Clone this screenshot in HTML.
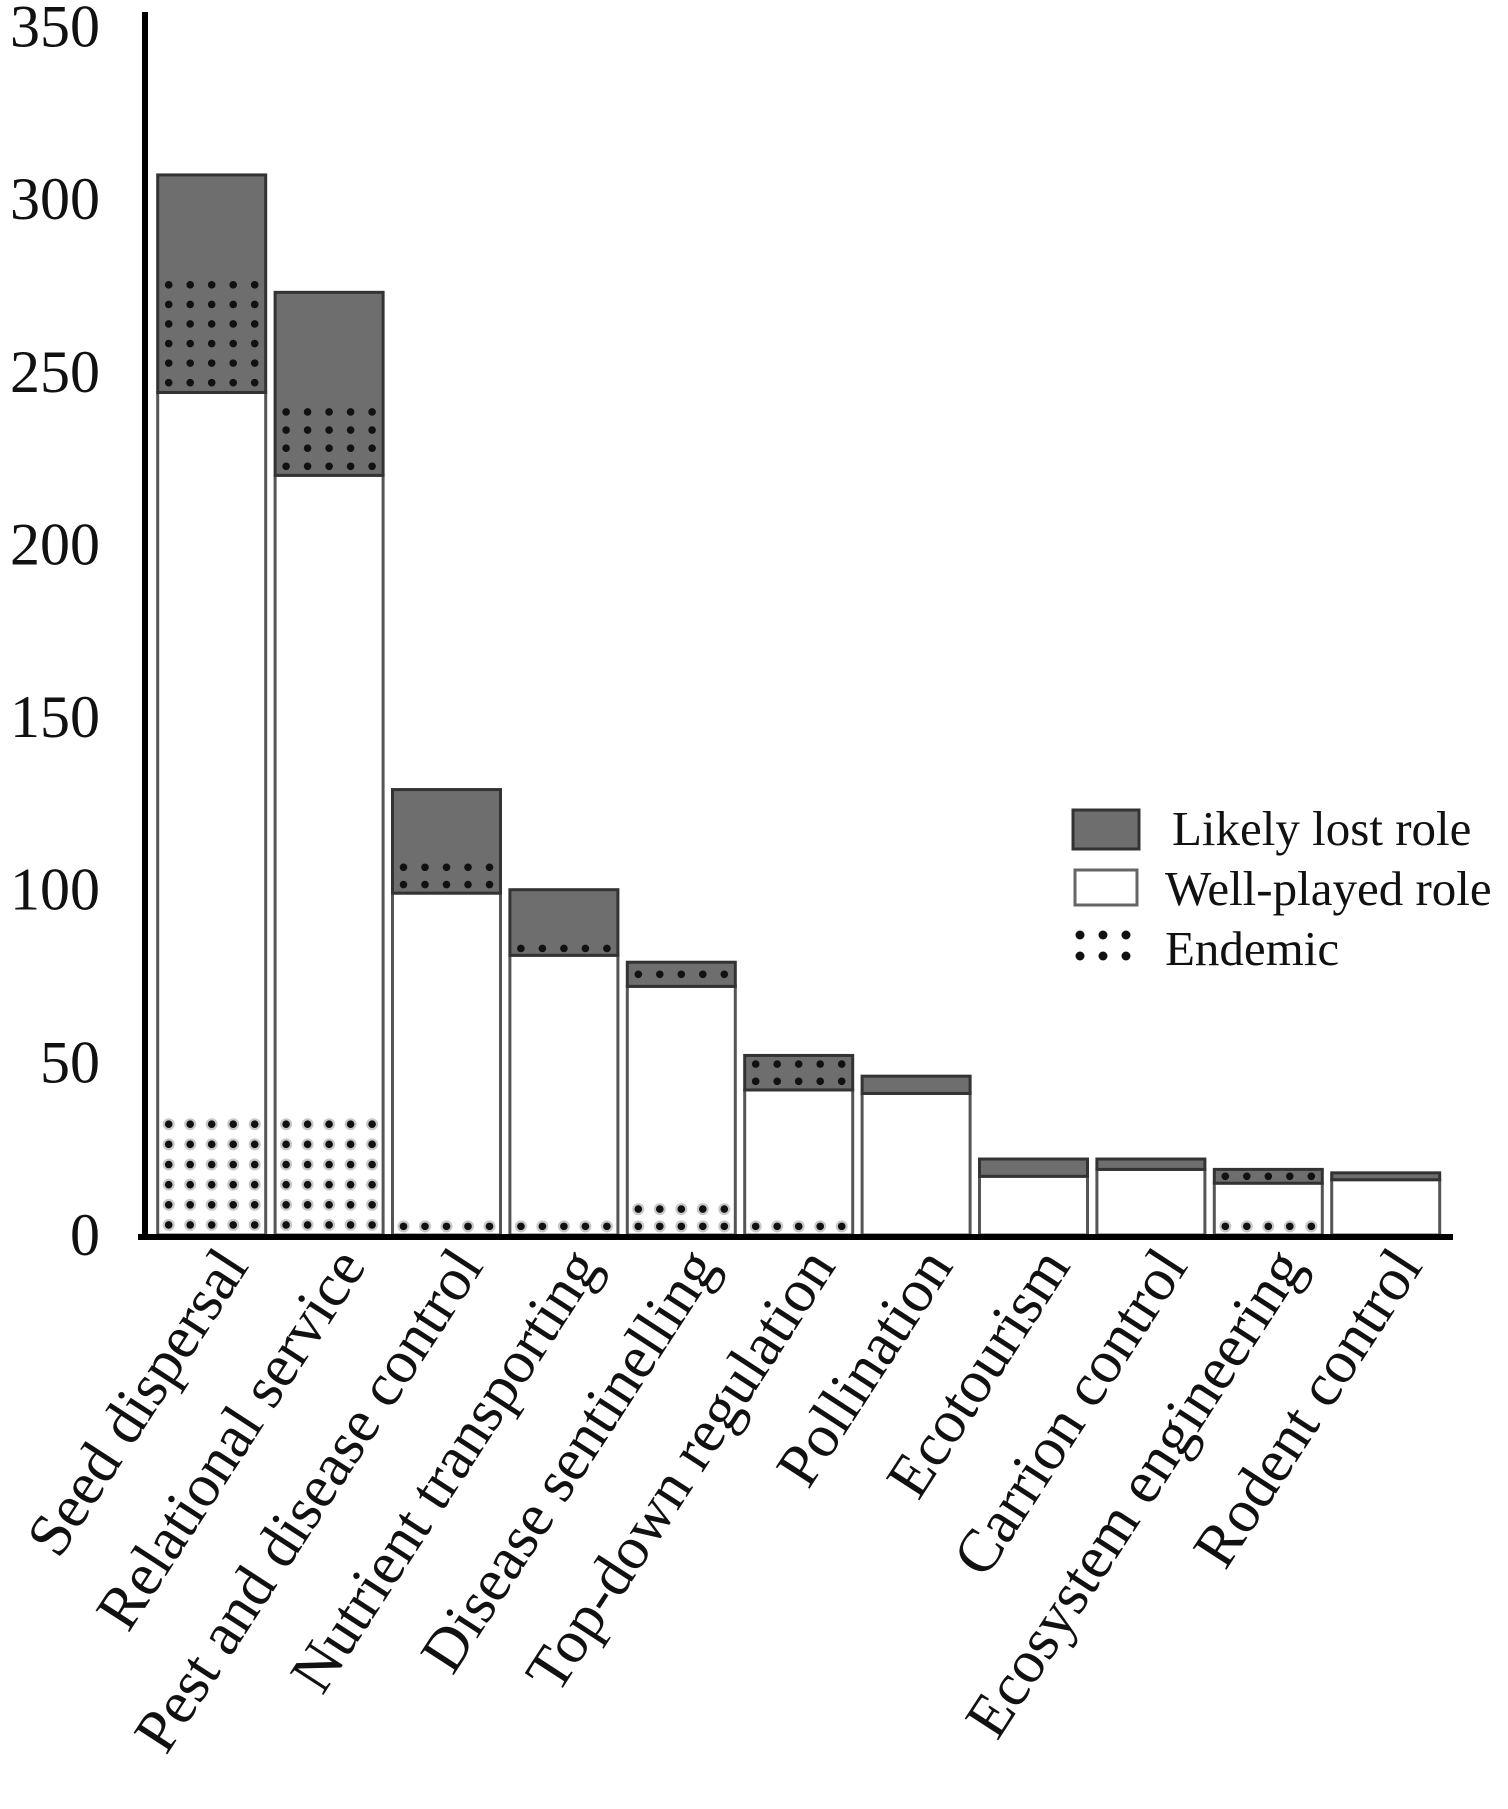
<!DOCTYPE html>
<html><head><meta charset="utf-8"><style>
html,body{margin:0;padding:0;background:#fff;}
svg text{font-family:"Liberation Serif",serif;fill:#111;}
</style></head><body>
<svg id="chart" width="1508" height="1804" viewBox="0 0 1508 1804" xmlns="http://www.w3.org/2000/svg">
<g id="bars"></g>
<g id="axes"></g>
<g id="legend">
<rect x="1073" y="810" width="66" height="39" fill="#6e6e6e" stroke="#333" stroke-width="3"/>
<text x="1172" y="845" font-size="49">Likely lost role</text>
<rect x="1075" y="870" width="62" height="35" fill="#fff" stroke="#666" stroke-width="3"/>
<text x="1165" y="905" font-size="49">Well-played role</text>
<g fill="#111">
<circle cx="1080" cy="935" r="4.5"/><circle cx="1103" cy="935" r="4.5"/><circle cx="1126" cy="935" r="4.5"/>
<circle cx="1080" cy="956" r="4.5"/><circle cx="1103" cy="956" r="4.5"/><circle cx="1126" cy="956" r="4.5"/>
</g>
<text x="1165" y="965" font-size="49">Endemic</text>
</g>
</svg>
<script>
const categories = ["Seed dispersal","Relational service","Pest and disease control","Nutrient transporting","Disease sentinelling","Top-down regulation","Pollination","Ecotourism","Carrion control","Ecosystem engineering","Rodent control"];
const totalValues = [307,273,129,100,79,52,46,22,22,19,18];
const wellPlayedValues = [244,220,99,81,72,42,41,17,19,15,16];
const endemicLostValues = [34,21,10,4,7,10,0,0,0,4,0];
const endemicWellValues = [35,35,5,5,10,5,0,0,0,5,0];
const yTicks = [0,50,100,150,200,250,300,350];

const NS = "http://www.w3.org/2000/svg";
const y0 = 1235, pxPerUnit = 3.453;
const yScale = v => y0 - v * pxPerUnit;
const barStart = 157.7, barPitch = 117.4, barW = 108;
const xScale = i => barStart + i * barPitch;
const rowGap = 19.5;

function mk(tag, attrs, parent){
  const el = document.createElementNS(NS, tag);
  for (const k in attrs) el.setAttribute(k, attrs[k]);
  parent.appendChild(el);
  return el;
}
function dots(g, x, yBottom, hPx, halo, name){
  const rows = Math.max(1, Math.round(hPx / rowGap));
  const gap = hPx / rows;
  const dg = mk('g', {}, g);
  
  
  for (let r = 0; r < rows; r++) {
    const cy = yBottom - gap * (r + 0.5);
    for (let k = 0; k < 5; k++) {
      const cx = x + 11 + 21.5 * k;
      if (halo) mk('circle', {cx: cx, cy: cy, r: 6, fill: '#c8c8c8'}, dg);
      mk('circle', {cx: cx, cy: cy, r: 3.8, fill: '#111'}, dg);
    }
  }
}
const bars = document.getElementById('bars');
const axes = document.getElementById('axes');

categories.forEach((c, i) => {
  const x = xScale(i);
  const g = mk('g', {}, bars);
  
  
  const w = mk('rect', {x: x, y: yScale(wellPlayedValues[i]), width: barW, height: wellPlayedValues[i]*pxPerUnit, fill:'#fff', stroke:'#555', 'stroke-width':3}, g);
  
  
  if (endemicWellValues[i] > 0) dots(g, x, y0, endemicWellValues[i]*pxPerUnit, true, 'bar-endemic-well-played');
  const lostH = (totalValues[i]-wellPlayedValues[i])*pxPerUnit;
  const l = mk('rect', {x: x, y: yScale(totalValues[i]), width: barW, height: lostH, fill:'#6e6e6e', stroke:'#333', 'stroke-width':3}, g);
  
  
  if (endemicLostValues[i] > 0) dots(g, x, yScale(wellPlayedValues[i]), endemicLostValues[i]*pxPerUnit, false, 'bar-endemic-likely-lost');
  const cx = x + barW/2 + 38, cy = 1266;
  const t = mk('text', {x: cx, y: cy, 'font-size': 61, 'text-anchor':'end', transform:`rotate(-57 ${cx} ${cy})`}, axes);
  t.textContent = c;
  
  
});

yTicks.forEach(v => {
  const t = mk('text', {x: 100, y: yScale(v)+20, 'font-size': 60, 'text-anchor':'end'}, axes);
  t.textContent = v;
  
  
});

const ya = mk('line', {x1:145, y1:12, x2:145, y2:1240, stroke:'#000', 'stroke-width':6}, axes);


const xa = mk('line', {x1:138, y1:1237, x2:1453, y2:1237, stroke:'#000', 'stroke-width':6}, axes);


</script>
</body></html>
